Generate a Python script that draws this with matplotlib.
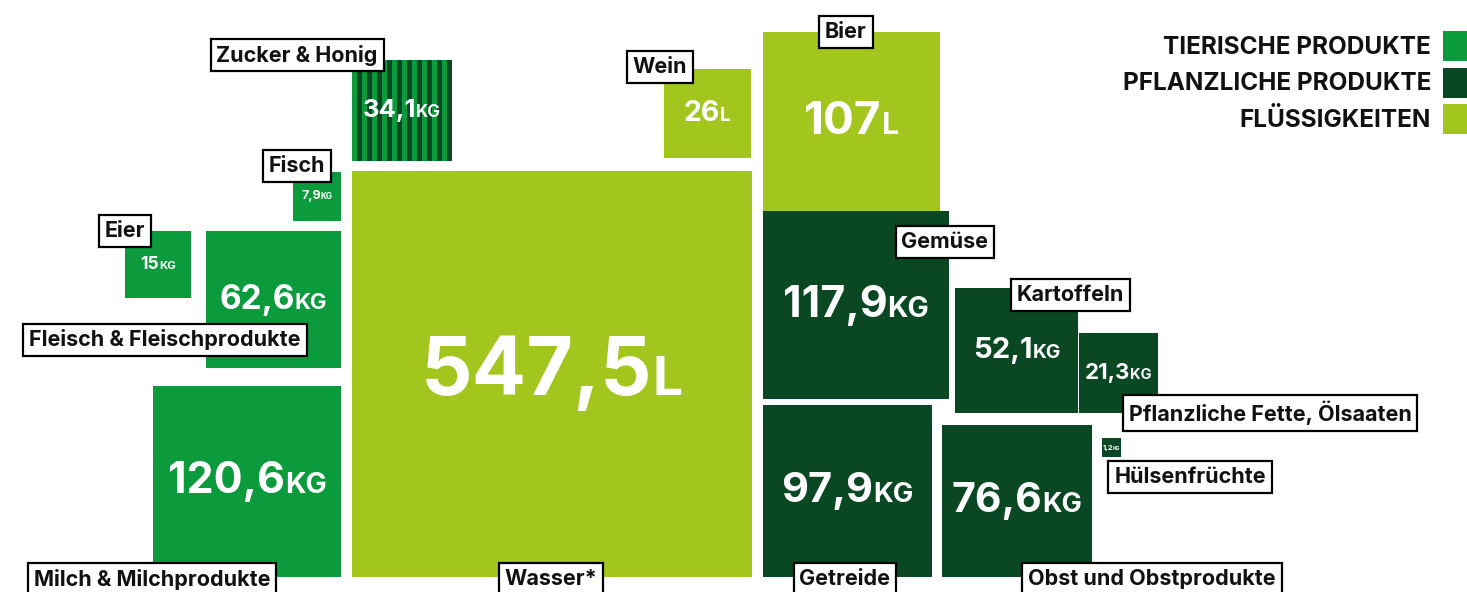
import numpy as np
import matplotlib
matplotlib.use('agg')
import matplotlib.pyplot as plt
from matplotlib.patches import Rectangle
from matplotlib.offsetbox import TextArea, HPacker, AnnotationBbox

# data
categories = ['Wasser*', 'Milch & Milchprodukte', 'Fleisch & Fleischprodukte', 'Eier',
              'Fisch', 'Zucker & Honig', 'Wein', 'Bier', 'Gemüse', 'Getreide',
              'Kartoffeln', 'Pflanzliche Fette, Ölsaaten', 'Obst und Obstprodukte',
              'Hülsenfrüchte']
values = [547.5, 120.6, 62.6, 15, 7.9, 34.1, 26, 107, 117.9, 97.9, 52.1, 21.3, 76.6, 1.2]
units = ['L', 'KG', 'KG', 'KG', 'KG', 'KG', 'L', 'L', 'KG', 'KG', 'KG', 'KG', 'KG', 'KG']
groups = ['fl', 'tier', 'tier', 'tier', 'tier', 'mix', 'fl', 'fl', 'pfl', 'pfl',
          'pfl', 'pfl', 'pfl', 'pfl']
legend_labels = ['TIERISCHE PRODUKTE', 'PFLANZLICHE PRODUKTE', 'FLÜSSIGKEITEN']

# layout (pixels, y from top)
SCALE = 17.1    # px per sqrt unit -> area proportional to value
ASPECT = 1.015  # squares are drawn a touch taller than wide
anchors = [('bl', 352, 577), ('br', 341, 577), ('tr', 341, 231), ('tr', 191, 231),
           ('tr', 341, 172), ('bl', 352, 161), ('br', 751, 158), ('tl', 763, 32),
           ('tl', 763, 211), ('bl', 763, 577), ('bl', 955, 413), ('bl', 1079, 413),
           ('bl', 942, 577), ('tl', 1102, 438)]
label_pos = [(551, 579), (152, 579), (165, 340), (125, 231), (297, 166), (297, 55),
             (660, 67), (846, 32), (945, 242), (845, 579), (1070, 295), (1270, 413),
             (1152, 579), (1190, 477)]
num_sizes = [58, 31, 24, 12.5, 9, 18.5, 20.5, 33, 31, 30, 21, 16, 29.5, 5.5]

GREEN = '#0b9a3c'
DARK = '#0a4723'
LIME = '#a2c61e'
colors = {'tier': GREEN, 'pfl': DARK, 'fl': LIME, 'mix': GREEN}

FONT = ['Inter', 'DejaVu Sans']

fig = plt.figure(figsize=(14.67, 5.92), dpi=100)
ax = fig.add_axes([0, 0, 1, 1])
ax.set_xlim(0, 1467)
ax.set_ylim(592, 0)
ax.axis('off')


def fmt(v):
    if float(v).is_integer():
        return str(int(v))
    return ('%.1f' % v).replace('.', ',')


for i, name in enumerate(categories):
    w = SCALE * np.sqrt(values[i])
    h = w * ASPECT
    corner, px, py = anchors[i]
    x0 = px if corner[1] == 'l' else px - w
    y0 = py if corner[0] == 't' else py - h
    ax.add_patch(Rectangle((x0, y0), w, h, facecolor=colors[groups[i]],
                           edgecolor='none', zorder=1))
    if groups[i] == 'mix':
        n = 10
        period = w / n
        for k in range(n):
            ax.add_patch(Rectangle((x0 + k * period + period * 0.5, y0), period * 0.5,
                                   h, facecolor=DARK, edgecolor='none', zorder=1.5))

    # value label: big number + small unit
    fs = num_sizes[i]
    t1 = TextArea(fmt(values[i]), textprops=dict(color='white', fontsize=fs,
                                                 fontweight='bold', family=FONT))
    t2 = TextArea(units[i], textprops=dict(color='white', fontsize=fs * 0.66,
                                           fontweight='bold', family=FONT))
    pack = HPacker(children=[t1, t2], align='baseline', pad=0, sep=0)
    ab = AnnotationBbox(pack, (x0 + w / 2, y0 + h / 2), frameon=False,
                        box_alignment=(0.5, 0.5), pad=0, zorder=3)
    ax.add_artist(ab)

    # category label
    lx, ly = label_pos[i]
    ax.text(lx, ly, name, ha='center', va='center', fontsize=15.5, fontweight='bold',
            family=FONT, color='#111111', zorder=4,
            bbox=dict(boxstyle='square,pad=0.27', facecolor='white', edgecolor='black',
                      linewidth=1.6))

# legend
leg_y = [46, 83, 119]
for lab, c, y in zip(legend_labels, [GREEN, DARK, LIME], leg_y):
    ax.text(1431, y + 1, lab, ha='right', va='center', fontsize=17.5, fontweight='bold',
            family=FONT, color='#111111')
    ax.add_patch(Rectangle((1443, y - 15), 30, 30, facecolor=c, edgecolor='none',
                           clip_on=False))

fig.savefig('out.png', dpi=100, facecolor='white')
